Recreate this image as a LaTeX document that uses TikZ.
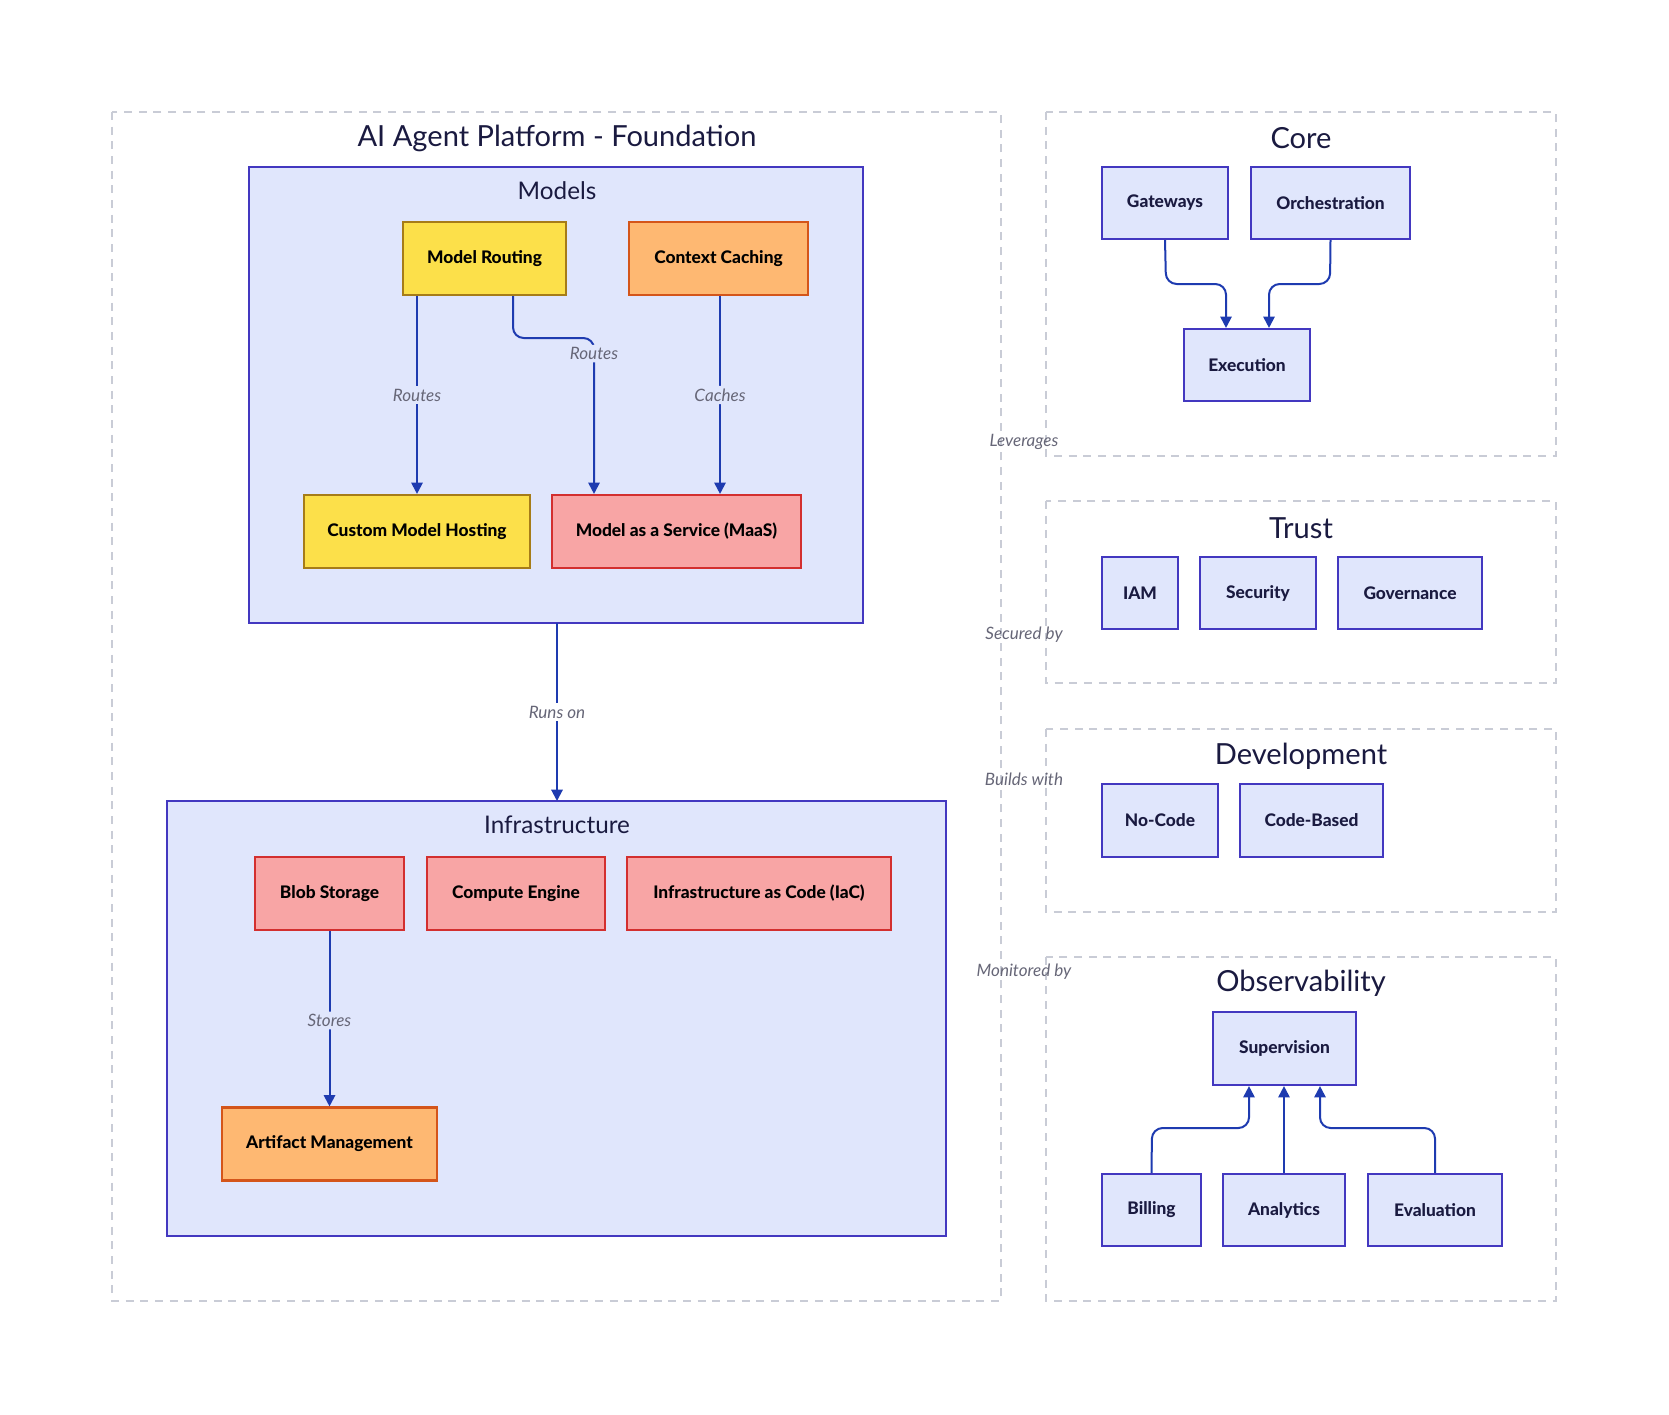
\documentclass[tikz,border=0pt]{standalone}
\usepackage{fontspec}
\setmainfont{Lato}[BoldFont={* Bold}, ItalicFont={* Italic}]
\newfontfamily\nodefont{Lato Heavy}
\usetikzlibrary{arrows.meta,positioning}
\definecolor{lav}{HTML}{E0E6FC}
\definecolor{lavline}{HTML}{4338C0}
\definecolor{edgec}{HTML}{1E3BB0}
\definecolor{ylw}{HTML}{FCE04A}
\definecolor{ylwline}{HTML}{A67C18}
\definecolor{org}{HTML}{FEB872}
\definecolor{orgline}{HTML}{D4551A}
\definecolor{rd}{HTML}{F8A5A5}
\definecolor{rdline}{HTML}{D32F2F}
\definecolor{dash}{HTML}{C9CCD6}
\definecolor{ink}{HTML}{1A1A40}
\definecolor{lbl}{HTML}{666677}
\tikzset{
  box/.style={draw, line width=1.6pt, inner sep=0pt, font=\fontsize{13}{15}\selectfont\nodefont},
  lavbox/.style={box, fill=lav, draw=lavline, text=ink},
  ylwbox/.style={box, fill=ylw, draw=ylwline, text=black},
  orgbox/.style={box, fill=org, draw=orgline, text=black},
  rdbox/.style={box, fill=rd, draw=rdline, text=black},
  outer/.style={draw=dash, line width=1.3pt, dash pattern=on 6pt off 5pt},
  cluster/.style={draw=lavline, fill=lav, line width=1.3pt},
  ttl/.style={font=\fontsize{21.8}{26}\selectfont, text=ink},
  subttl/.style={font=\fontsize{18.2}{22}\selectfont, text=ink},
  conn/.style={draw=edgec, line width=1.5pt, -{Triangle[length=8.5pt,width=8.5pt]}, rounded corners=8pt},
  elabel/.style={font=\fontsize{12.8}{15}\selectfont\itshape, text=lbl, inner sep=2pt},
}
\begin{document}
\begin{tikzpicture}[x=0.75pt,y=-0.75pt]
\useasboundingbox (0,0) rectangle (1669,1414);
% outer dashed clusters
\draw[outer] (112,112) rectangle (1001,1301);
\draw[outer] (1046,112) rectangle (1556,456);
\draw[outer] (1046,501) rectangle (1556,683);
\draw[outer] (1046,729) rectangle (1556,912);
\draw[outer] (1046,957) rectangle (1556,1301);
\node[ttl] (tfound) at (557,138) {AI Agent Platform - Foundation};
\node[ttl] (tcore) at (1301,138) {Core};
\node[ttl] (ttrust) at (1301,528) {Trust};
\node[ttl] (tdev) at (1301,756) {Development};
\node[ttl] (tobs) at (1301,983) {Observability};
% inner clusters
\path[cluster] (249,167) rectangle (863,623);
\coordinate (modelsbot) at (557,623);
\path[cluster] (167,801) rectangle (946,1236);
\coordinate (infratop) at (557,801);
\node[subttl] (tmodels) at (557,191) {Models};
\node[subttl] (tinfra) at (557,825) {Infrastructure};
% Models nodes
\node[ylwbox, minimum width=163pt*0.75, minimum height=73pt*0.75] (mr) at (484.5,258.5) {Model Routing};
\node[orgbox, minimum width=179pt*0.75, minimum height=73pt*0.75] (cc) at (718.5,258.5) {Context Caching};
\node[ylwbox, minimum width=226pt*0.75, minimum height=73pt*0.75] (cmh) at (417,531.5) {Custom Model Hosting};
\node[rdbox, minimum width=249pt*0.75, minimum height=73pt*0.75] (maas) at (676.5,531.5) {Model as a Service (MaaS)};
% Infra nodes
\node[rdbox, minimum width=149pt*0.75, minimum height=73pt*0.75] (blob) at (329.5,893.5) {Blob Storage};
\node[rdbox, minimum width=178pt*0.75, minimum height=73pt*0.75] (ce) at (516,893.5) {Compute Engine};
\node[rdbox, minimum width=264pt*0.75, minimum height=73pt*0.75] (iac) at (759,893.5) {Infrastructure as Code (IaC)};
\node[orgbox, minimum width=215pt*0.75, minimum height=73pt*0.75] (am) at (329.5,1144) {Artifact Management};
% Core
\node[lavbox, minimum width=126pt*0.75, minimum height=72pt*0.75] (gw) at (1165,203) {Gateways};
\node[lavbox, minimum width=159pt*0.75, minimum height=72pt*0.75] (orch) at (1330.5,203) {Orchestration};
\node[lavbox, minimum width=126pt*0.75, minimum height=72pt*0.75] (exe) at (1247,365) {Execution};
% Trust
\node[lavbox, minimum width=76pt*0.75, minimum height=72pt*0.75] (iam) at (1140,593) {IAM};
\node[lavbox, minimum width=116pt*0.75, minimum height=72pt*0.75] (sec) at (1258,593) {Security};
\node[lavbox, minimum width=144pt*0.75, minimum height=72pt*0.75] (gov) at (1410,593) {Governance};
% Development
\node[lavbox, minimum width=116pt*0.75, minimum height=73pt*0.75] (nc) at (1160,820.5) {No-Code};
\node[lavbox, minimum width=143pt*0.75, minimum height=73pt*0.75] (cb) at (1311.5,820.5) {Code-Based};
% Observability
\node[lavbox, minimum width=143pt*0.75, minimum height=73pt*0.75] (sup) at (1284.5,1048.5) {Supervision};
\node[lavbox, minimum width=99pt*0.75, minimum height=72pt*0.75] (bill) at (1151.5,1210) {Billing};
\node[lavbox, minimum width=122pt*0.75, minimum height=72pt*0.75] (ana) at (1284,1210) {Analytics};
\node[lavbox, minimum width=134pt*0.75, minimum height=72pt*0.75] (eval) at (1435,1210) {Evaluation};
% Models edges
\draw[conn] (mr.south -| 417,0) -- node[elabel, fill=lav, pos=0.5] {Routes} (cmh.north -| 417,0);
\draw[conn] (mr.south -| 513,0) -- (513,338) -- (594,338) -- node[elabel, fill=lav, pos=0.1] {Routes} (maas.north -| 594,0);
\draw[conn] (cc.south -| 720,0) -- node[elabel, fill=lav, pos=0.5] {Caches} (maas.north -| 720,0);
\draw[conn] (modelsbot) -- node[elabel, fill=white, pos=0.5] {Runs on} (infratop);
\draw[conn] (blob.south) -- node[elabel, fill=lav, pos=0.51] {Stores} (am.north);
% Core edges
\draw[conn] (gw.south) -- (1166,284) -- (1226,284) -- (exe.north -| 1226,0);
\draw[conn] (orch.south) -- (1330,284) -- (1269,284) -- (exe.north -| 1269,0);
% Observability edges
\draw[conn] (bill.north) -- (1152,1128) -- (1249,1128) -- (sup.south -| 1249,0);
\draw[conn] (ana.north) -- (sup.south -| 1284,0);
\draw[conn] (eval.north) -- (1435,1128) -- (1320,1128) -- (sup.south -| 1320,0);
% cross-cluster labels
\node[elabel] (lev) at (1024,442) {Leverages};
\node[elabel] (secby) at (1024,635) {Secured by};
\node[elabel] (bw) at (1024,779) {Builds with};
\node[elabel] (monby) at (1024,972) {Monitored by};
\end{tikzpicture}
\end{document}
